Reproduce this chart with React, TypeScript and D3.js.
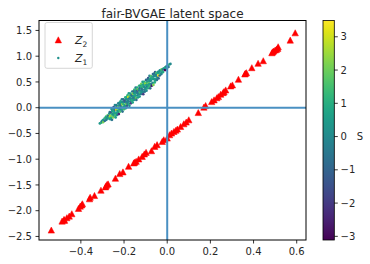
import React from 'react';
import * as d3 from 'd3';

// Z2 (red triangles)
const z2x = [-0.537,-0.487,-0.478,-0.476,-0.465,-0.454,-0.442,-0.411,-0.403,-0.396,-0.393,-0.360,-0.357,-0.337,-0.307,-0.286,-0.283,-0.279,-0.274,-0.240,-0.220,-0.205,-0.179,-0.155,-0.150,-0.144,-0.132,-0.116,-0.106,-0.098,-0.073,-0.058,-0.047,-0.023,-0.016,0.000,0.011,0.020,0.031,0.040,0.047,0.062,0.077,0.088,0.100,0.144,0.170,0.178,0.206,0.217,0.230,0.237,0.248,0.259,0.263,0.271,0.294,0.302,0.330,0.360,0.362,0.367,0.392,0.421,0.445,0.485,0.489,0.493,0.500,0.506,0.512,0.514,0.570,0.593];
const z2y = [-2.379,-2.205,-2.172,-2.190,-2.139,-2.108,-2.062,-1.959,-1.915,-1.890,-1.868,-1.772,-1.741,-1.708,-1.605,-1.540,-1.520,-1.495,-1.482,-1.373,-1.282,-1.250,-1.141,-1.075,-1.060,-1.044,-0.998,-0.948,-0.901,-0.870,-0.838,-0.754,-0.721,-0.658,-0.625,-0.592,-0.528,-0.495,-0.464,-0.440,-0.418,-0.368,-0.315,-0.282,-0.238,-0.097,0.008,0.039,0.116,0.149,0.190,0.213,0.259,0.290,0.309,0.342,0.420,0.439,0.549,0.652,0.665,0.677,0.774,0.859,0.909,1.064,1.080,1.097,1.116,1.130,1.149,1.180,1.309,1.451];

// Z1 points: [x, y, S]
const z1: number[][] = [
[-0.312,-0.305,0.4],
[-0.305,-0.29,1.2],[-0.303,-0.265,-0.3],
[-0.298,-0.24,0.6],[-0.296,-0.28,2.1],
[-0.29,-0.21,0.1],[-0.289,-0.255,-0.8],[-0.287,-0.195,1.5],
[-0.283,-0.175,0.9],[-0.282,-0.235,-0.2],[-0.28,-0.2,0.3],
[-0.276,-0.15,1.8],[-0.275,-0.21,0.0],[-0.273,-0.165,-1.1],[-0.272,-0.19,0.7],
[-0.268,-0.114,0.2],[-0.267,-0.204,1.1],[-0.266,-0.084,-0.5],[-0.265,-0.164,2.6],[-0.264,-0.224,0.5],
[-0.26,-0.096,-1.4],[-0.259,-0.196,0.9],[-0.258,-0.026,0.1],[-0.257,-0.126,1.3],[-0.256,-0.236,-0.6],[-0.255,-0.066,0.4],[-0.254,-0.156,1.7],
[-0.252,-0.118,0.0],[-0.251,-0.018,-0.2],[-0.25,-0.188,2.2],[-0.249,-0.058,0.8],[-0.248,0.012,-1.8],[-0.247,-0.148,0.3],[-0.246,-0.088,1.0],
[-0.244,-0.019,-0.4],[-0.243,-0.109,0.6],[-0.242,0.051,0.1],[-0.241,-0.149,1.4],[-0.24,-0.049,-0.9],[-0.239,-0.189,0.5],[-0.238,0.001,0.2],
[-0.236,-0.041,2.9],[-0.235,0.049,-0.3],[-0.234,-0.101,0.7],[-0.233,-0.001,1.1],[-0.232,-0.141,0.0],[-0.231,0.019,-1.2],[-0.23,-0.061,0.4],
[-0.228,0.017,1.9],[-0.227,-0.083,0.6],[-0.226,0.087,-0.1],[-0.225,-0.013,0.9],[-0.224,-0.123,-2.3],[-0.223,0.047,0.3],[-0.222,-0.043,1.2],
[-0.22,-0.005,-0.7],[-0.219,0.095,0.2],[-0.218,-0.075,1.6],[-0.217,0.055,-0.4],[-0.216,0.125,0.8],[-0.215,-0.035,0.0],[-0.214,0.025,-1.0],
[-0.212,0.094,0.5],[-0.211,0.004,1.0],[-0.21,0.164,-0.2],[-0.209,-0.036,0.4],[-0.208,0.064,2.4],[-0.207,-0.076,-0.6],[-0.206,0.114,0.1],
[-0.204,0.072,1.3],[-0.203,0.162,-0.8],[-0.202,0.012,0.6],[-0.201,0.112,0.2],[-0.2,-0.028,1.5],[-0.199,0.132,-0.3],[-0.198,0.052,0.9],
[-0.196,0.13,-1.5],[-0.195,0.03,0.3],[-0.194,0.2,1.1],[-0.193,0.1,-0.5],[-0.192,-0.01,0.7],[-0.191,0.16,0.0],[-0.19,0.07,2.0],
[-0.188,0.108,-0.1],[-0.187,0.208,0.8],[-0.186,0.038,-1.1],[-0.185,0.168,0.4],[-0.184,0.238,1.2],[-0.183,0.078,-0.4],[-0.182,0.138,0.1],
[-0.18,0.207,3.1],[-0.179,0.117,-0.2],[-0.178,0.277,0.6],[-0.177,0.077,1.0],[-0.176,0.177,-0.7],[-0.175,0.037,0.3],[-0.174,0.227,1.7],
[-0.172,0.185,0.0],[-0.171,0.275,0.5],[-0.17,0.125,-0.3],[-0.169,0.225,1.4],[-0.168,0.085,-2.0],[-0.167,0.245,0.7],[-0.166,0.165,0.2],
[-0.164,0.243,-0.9],[-0.163,0.143,1.1],[-0.162,0.313,0.1],[-0.161,0.213,-0.5],[-0.16,0.103,0.8],[-0.159,0.273,2.3],[-0.158,0.183,-0.1],
[-0.156,0.221,0.4],[-0.155,0.321,-1.3],[-0.154,0.151,0.6],[-0.153,0.281,0.0],[-0.152,0.351,1.3],[-0.151,0.191,-0.6],[-0.15,0.251,0.9],
[-0.148,0.32,0.2],[-0.147,0.23,0.7],[-0.146,0.39,-0.2],[-0.145,0.19,1.8],[-0.144,0.29,0.3],[-0.143,0.15,-0.8],[-0.142,0.34,0.5],
[-0.14,0.298,-0.4],[-0.139,0.388,1.0],[-0.138,0.238,0.1],[-0.137,0.338,-1.6],[-0.136,0.198,0.6],[-0.135,0.358,2.7],[-0.134,0.278,-0.3],
[-0.132,0.356,0.8],[-0.131,0.256,0.2],[-0.13,0.426,1.2],[-0.129,0.326,-0.5],[-0.128,0.216,0.4],[-0.127,0.386,-1.0],[-0.126,0.296,1.5],
[-0.124,0.334,0.0],[-0.123,0.434,0.6],[-0.122,0.264,-0.2],[-0.121,0.394,0.9],[-0.12,0.464,2.1],[-0.119,0.304,0.3],[-0.118,0.364,-0.7],
[-0.116,0.433,1.1],[-0.115,0.343,-0.4],[-0.114,0.503,0.5],[-0.113,0.303,0.1],[-0.112,0.403,1.4],[-0.111,0.263,-1.9],[-0.11,0.453,0.7],
[-0.108,0.411,0.2],[-0.107,0.501,0.9],[-0.106,0.351,-0.1],[-0.105,0.451,0.4],[-0.104,0.311,-0.6],[-0.103,0.471,1.6],[-0.102,0.391,0.0],
[-0.1,0.469,2.5],[-0.099,0.369,0.3],[-0.098,0.539,-0.9],[-0.097,0.439,0.8],[-0.096,0.329,0.1],[-0.095,0.499,1.2],[-0.094,0.409,-0.3],
[-0.092,0.447,0.6],[-0.091,0.547,-0.5],[-0.09,0.377,1.0],[-0.089,0.507,0.2],[-0.088,0.577,-1.3],[-0.087,0.417,0.5],[-0.086,0.477,1.9],
[-0.084,0.546,0.0],[-0.083,0.456,0.7],[-0.082,0.616,-0.2],[-0.081,0.416,1.3],[-0.08,0.516,0.4],[-0.079,0.376,-0.7],[-0.078,0.566,0.9],
[-0.076,0.524,0.1],[-0.075,0.614,1.7],[-0.074,0.464,-0.4],[-0.073,0.564,0.6],[-0.072,0.424,-2.6],[-0.071,0.584,0.3],
[-0.068,0.582,1.1],[-0.067,0.482,0.0],[-0.066,0.652,-0.8],[-0.065,0.552,0.5],[-0.064,0.442,2.2],[-0.063,0.612,-0.1],
[-0.06,0.56,0.4],[-0.059,0.66,-0.5],[-0.058,0.49,1.0],[-0.057,0.62,0.2],[-0.056,0.69,-1.1],[-0.055,0.53,0.8],
[-0.052,0.638,-0.3],[-0.051,0.558,0.7],[-0.05,0.678,1.5],[-0.049,0.608,0.1],[-0.048,0.538,-0.6],
[-0.044,0.667,0.9],[-0.043,0.587,-0.2],[-0.042,0.697,0.3],[-0.041,0.627,3.49],[-0.04,0.567,-0.9],
[-0.036,0.695,0.5],[-0.035,0.625,-1.4],[-0.034,0.725,0.0],[-0.033,0.655,1.2],
[-0.028,0.723,0.6],[-0.027,0.653,-0.4],[-0.026,0.743,1.8],[-0.025,0.683,0.2],
[-0.02,0.741,-0.7],[-0.019,0.691,0.9],[-0.017,0.761,0.1],
[-0.012,0.77,0.4],[-0.01,0.73,-3.11],[-0.008,0.79,1.0],
[-0.004,0.8,-0.2],[-0.002,0.76,0.7],
[0.003,0.82,0.3],[0.006,0.79,-0.5],
[0.01,0.84,1.3],[0.015,0.85,0.0],
];

const xTicks = [-0.4, -0.2, 0.0, 0.2, 0.4, 0.6];
const yTicks = [-2.5, -2.0, -1.5, -1.0, -0.5, 0.0, 0.5, 1.0, 1.5];
const cTicks = [-3, -2, -1, 0, 1, 2, 3];
const title = 'fair-BVGAE latent space';

const W = 370, H = 264;
const L = 39, R = 306, T = 20.5, B = 240;
const CBL = 323, CBR = 334.3;
const FONT = 'DejaVu Sans, sans-serif';
const TXT = '#262626';
const LINE = '#4a90c2';

export default function App() {
  const x = d3.scaleLinear().domain([-0.594, 0.643]).range([L, R]);
  const y = d3.scaleLinear().domain([-2.569, 1.693]).range([B, T]);
  const sExt = d3.extent(z1, d => d[2]) as [number, number];
  const c = d3.scaleLinear().domain(sExt).range([B, T]);
  const color = (s: number) => d3.interpolateViridis((s - sExt[0]) / (sExt[1] - sExt[0]));
  const fx = d3.format('.1f');
  const fc = d3.format('d');
  const tri = 'M0,-3.2L3.2,2.9L-3.2,2.9Z';
  const stops = d3.range(0, 1.0001, 0.05);

  return (
    <svg width={W} height={H} style={{ position: 'absolute', left: 0, top: 0, background: '#fff' }} fontFamily={FONT}>
      <defs>
        <linearGradient id="vir" x1="0" y1="1" x2="0" y2="0">
          {stops.map((t, i) => <stop key={i} offset={t} stopColor={d3.interpolateViridis(t)} />)}
        </linearGradient>
        <clipPath id="plot"><rect x={L} y={T} width={R - L} height={B - T} /></clipPath>
      </defs>
      <rect x={0} y={0} width={W} height={H} fill="#fff" />
      <text x={(L + R) / 2} y={17.5} textAnchor="middle" fontSize={12} fill={TXT}>{title}</text>

      <g clipPath="url(#plot)">
        {z2x.map((v, i) => (
          <path key={'t' + i} d={tri} transform={`translate(${x(v)},${y(z2y[i])})`} fill="#ff0000" stroke="#ff0000" strokeWidth={0.5} />
        ))}
        {z1.map((p, i) => (
          <circle key={'c' + i} cx={x(p[0])} cy={y(p[1])} r={1.35} fill={color(p[2])} />
        ))}
        <line x1={L} x2={R} y1={y(0)} y2={y(0)} stroke={LINE} strokeWidth={2} />
        <line x1={x(0)} x2={x(0)} y1={T} y2={B} stroke={LINE} strokeWidth={2} />
      </g>

      <rect x={L} y={T} width={R - L} height={B - T} fill="none" stroke="#000" strokeWidth={1} />

      {xTicks.map(t => (
        <g key={'x' + t}>
          <line x1={x(t)} x2={x(t)} y1={B} y2={B + 3.5} stroke="#000" strokeWidth={0.8} />
          <text x={x(t)} y={255.3} textAnchor="middle" fontSize={10} fill={TXT}>{fx(t)}</text>
        </g>
      ))}
      {yTicks.map(t => (
        <g key={'y' + t}>
          <line x1={L - 3.5} x2={L} y1={y(t)} y2={y(t)} stroke="#000" strokeWidth={0.8} />
          <text x={32} y={y(t)} dy="0.36em" textAnchor="end" fontSize={10} fill={TXT}>{fx(t)}</text>
        </g>
      ))}

      <g>
        <rect x={45} y={22.5} width={47.3} height={45.8} rx={2} fill="#fff" fillOpacity={0.8} stroke="#cccccc" strokeWidth={0.8} />
        <path d={tri} transform="translate(58.3,40)" fill="#ff0000" stroke="#ff0000" strokeWidth={0.5} />
        <text x={75} y={44} fontSize={11} fill={TXT}><tspan fontStyle="italic">Z</tspan><tspan fontSize={7.5} dy={2.5}>2</tspan></text>
        <circle cx={58.3} cy={58} r={1.2} fill={d3.interpolateViridis(0.5)} />
        <text x={75} y={62} fontSize={11} fill={TXT}><tspan fontStyle="italic">Z</tspan><tspan fontSize={7.5} dy={2.5}>1</tspan></text>
      </g>

      <rect x={CBL} y={T} width={CBR - CBL} height={B - T} fill="url(#vir)" stroke="#000" strokeWidth={0.8} />
      {cTicks.map(t => (
        <g key={'c' + t}>
          <line x1={CBR} x2={CBR + 3.5} y1={c(t)} y2={c(t)} stroke="#000" strokeWidth={0.8} />
          <text x={340.5} y={c(t)} dy="0.36em" fontSize={10} fill={TXT}>{fc(t)}</text>
        </g>
      ))}
      <text x={360} y={c(0)} dy="0.36em" textAnchor="middle" fontSize={10} fill={TXT}>S</text>
    </svg>
  );
}
